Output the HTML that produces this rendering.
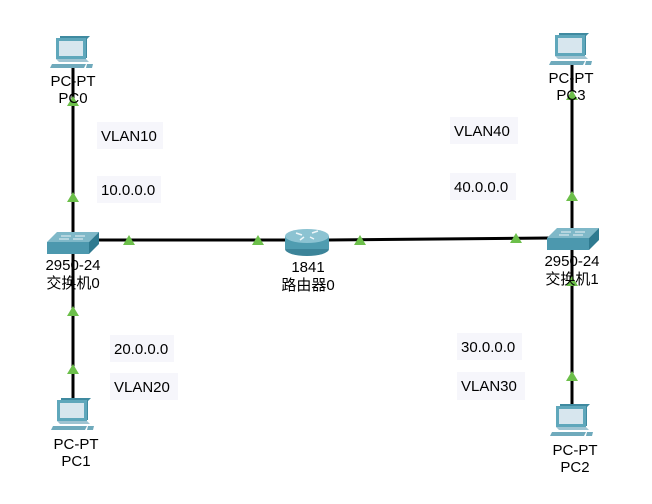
<!DOCTYPE html>
<html><head><meta charset="utf-8"><style>
html,body{margin:0;padding:0;background:#fff;width:652px;height:504px;overflow:hidden}
svg{display:block}
text{font-family:"Liberation Sans","Noto Sans CJK SC",sans-serif;font-size:15px;fill:#000}
.lb{fill:#f6f6fb}
</style></head><body>
<svg width="652" height="504" viewBox="0 0 652 504">
<defs>
<g id="pc">
 <polygon points="4,0 34,0 31,3 31,22 4,22" fill="#3f8aa0"/>
 <rect x="0" y="2" width="30" height="21" fill="#5fa7bb"/>
 <rect x="3" y="5" width="24" height="15" fill="#d7e6ee"/>
 <polygon points="0,23 30,23 33,26 3,26" fill="#9fc4d2"/>
 <polygon points="-4,28 30,28 28,32 -6,32" fill="#6faabc"/>
 <polygon points="31,28 37,28 36,32 30,32" fill="#6faabc"/>
</g>
<g id="sw">
 <polygon points="10,0 52,0 42,10 0,10" fill="#7fb8c8"/>
 <polygon points="0,10 42,10 42,22 0,22" fill="#4c98ae"/>
 <polygon points="42,10 52,0 52,12 42,22" fill="#2f7a90"/>
 <path d="M14,4 h10 M28,4 h10 M12,7 h10 M26,7 h10" stroke="#e8f2f6" stroke-width="1"/>
</g>
<polygon id="tri" points="0,-6 6,4 -6,4" fill="#6cbf4a"/>
</defs>
<g stroke="#000" stroke-width="3" fill="none">
 <line x1="73" y1="68" x2="73" y2="236"/>
 <line x1="73" y1="254" x2="73" y2="400"/>
 <line x1="98" y1="240" x2="288" y2="240"/>
 <line x1="328" y1="240" x2="550" y2="238"/>
 <line x1="572" y1="64" x2="572" y2="230"/>
 <line x1="572" y1="250" x2="572" y2="405"/>
</g>
<use href="#pc" x="56" y="36"/>
<use href="#pc" x="555" y="33"/>
<use href="#pc" x="57" y="398"/>
<use href="#pc" x="556" y="404"/>
<use href="#sw" x="47" y="232"/>
<use href="#sw" x="547" y="228"/>
<g>
 <ellipse cx="307" cy="249" rx="22" ry="7" fill="#3c8499"/>
 <rect x="285" y="236" width="44" height="13" fill="#4f9cb0"/>
 <ellipse cx="307" cy="236" rx="22" ry="7" fill="#8cc3d2"/>
 <path d="M296,233 l6,2 M312,233 l6,-2 M300,240 l4,-3 M314,239 l-4,-2" stroke="#eef6f9" stroke-width="1.5"/>
</g>
<use href="#tri" x="73" y="102"/><use href="#tri" x="73" y="198"/>
<use href="#tri" x="73" y="312"/><use href="#tri" x="73" y="370"/>
<use href="#tri" x="129" y="241"/><use href="#tri" x="258" y="241"/>
<use href="#tri" x="360" y="241"/><use href="#tri" x="516" y="239"/>
<use href="#tri" x="572" y="197"/><use href="#tri" x="572" y="96"/>
<use href="#tri" x="572" y="282"/><use href="#tri" x="572" y="377"/>
<rect class="lb" x="97" y="122" width="66" height="27"/>
<rect class="lb" x="97" y="176" width="64" height="27"/>
<rect class="lb" x="110" y="335" width="64" height="27"/>
<rect class="lb" x="110" y="373" width="68" height="27"/>
<rect class="lb" x="450" y="117" width="68" height="27"/>
<rect class="lb" x="450" y="173" width="66" height="27"/>
<rect class="lb" x="457" y="333" width="65" height="27"/>
<rect class="lb" x="457" y="372" width="68" height="28"/>
<text x="101" y="141">VLAN10</text>
<text x="101" y="195">10.0.0.0</text>
<text x="114" y="354">20.0.0.0</text>
<text x="114" y="392">VLAN20</text>
<text x="454" y="136">VLAN40</text>
<text x="454" y="192">40.0.0.0</text>
<text x="461" y="352">30.0.0.0</text>
<text x="461" y="391">VLAN30</text>
<g text-anchor="middle">
<text x="73" y="86">PC-PT</text><text x="73" y="103">PC0</text>
<text x="571" y="83">PC-PT</text><text x="571" y="100">PC3</text>
<text x="76" y="449">PC-PT</text><text x="76" y="466">PC1</text>
<text x="575" y="455">PC-PT</text><text x="575" y="472">PC2</text>
<text x="73" y="270">2950-24</text><text x="73" y="288">交换机0</text>
<text x="572" y="266">2950-24</text><text x="572" y="284">交换机1</text>
<text x="308" y="272">1841</text><text x="308" y="290">路由器0</text>
</g>
</svg>
</body></html>
